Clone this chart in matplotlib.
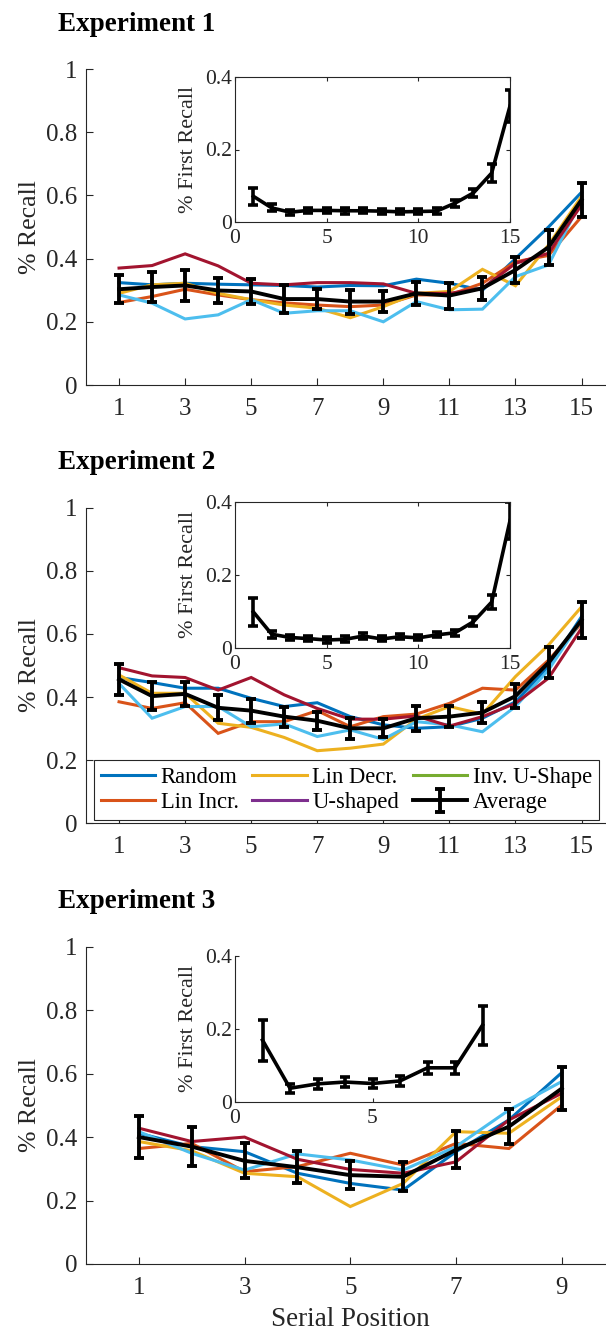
import numpy as np
import matplotlib
matplotlib.use("Agg")
import matplotlib.pyplot as plt
from matplotlib.lines import Line2D

plt.rcParams['font.family'] = ['Liberation Serif', 'DejaVu Serif']
plt.rcParams['mathtext.fontset'] = 'stix'

# MATLAB default colour order
C_BLUE = '#0072BD'
C_ORANGE = '#D95319'
C_YELLOW = '#EDB120'
C_PURPLE = '#7E2F8E'
C_GREEN = '#77AC30'
C_LBLUE = '#4DBEEE'
C_DRED = '#A2142F'
AX_COL = '#262626'

# ---------------- Experiment 1 (15 items) ----------------
exp1_random = [0.324, 0.317, 0.322, 0.319, 0.317, 0.315, 0.310, 0.315, 0.314, 0.335, 0.322, 0.300, 0.400, 0.500, 0.610]
exp1_lin_incr = [0.261, 0.280, 0.303, 0.285, 0.270, 0.260, 0.253, 0.248, 0.253, 0.285, 0.285, 0.322, 0.390, 0.410, 0.533]
exp1_lin_decr = [0.290, 0.317, 0.322, 0.290, 0.270, 0.253, 0.243, 0.213, 0.248, 0.290, 0.296, 0.366, 0.314, 0.443, 0.597]
exp1_u_shaped = [0.285, 0.259, 0.209, 0.222, 0.270, 0.227, 0.235, 0.235, 0.200, 0.264, 0.238, 0.240, 0.343, 0.380, 0.586]
exp1_inv_u = [0.370, 0.378, 0.415, 0.377, 0.322, 0.317, 0.324, 0.324, 0.320, 0.290, 0.290, 0.306, 0.385, 0.417, 0.570]
exp1_avg = [0.303, 0.310, 0.315, 0.299, 0.296, 0.272, 0.272, 0.264, 0.264, 0.290, 0.283, 0.306, 0.364, 0.436, 0.586]
exp1_avg_err = [0.044, 0.048, 0.048, 0.041, 0.041, 0.043, 0.032, 0.038, 0.034, 0.037, 0.041, 0.037, 0.040, 0.055, 0.054]
exp1_first = [0.071, 0.039, 0.027, 0.032, 0.032, 0.031, 0.031, 0.030, 0.028, 0.029, 0.030, 0.052, 0.080, 0.135, 0.320]
exp1_first_err = [0.024, 0.010, 0.007, 0.008, 0.008, 0.008, 0.007, 0.007, 0.007, 0.007, 0.008, 0.010, 0.012, 0.025, 0.045]

# ---------------- Experiment 2 (15 items) ----------------
exp2_random = [0.462, 0.446, 0.428, 0.428, 0.396, 0.370, 0.382, 0.338, 0.312, 0.301, 0.306, 0.333, 0.385, 0.496, 0.655]
exp2_lin_incr = [0.385, 0.364, 0.382, 0.285, 0.322, 0.322, 0.357, 0.306, 0.338, 0.346, 0.380, 0.428, 0.422, 0.517, 0.634]
exp2_lin_decr = [0.470, 0.412, 0.412, 0.317, 0.304, 0.272, 0.230, 0.238, 0.251, 0.330, 0.370, 0.346, 0.465, 0.565, 0.686]
exp2_u_shaped = [0.443, 0.333, 0.370, 0.370, 0.306, 0.315, 0.275, 0.296, 0.266, 0.322, 0.312, 0.290, 0.370, 0.486, 0.644]
exp2_inv_u = [0.493, 0.467, 0.462, 0.422, 0.462, 0.407, 0.364, 0.330, 0.330, 0.340, 0.308, 0.338, 0.380, 0.460, 0.618]
exp2_avg = [0.456, 0.403, 0.410, 0.366, 0.357, 0.338, 0.325, 0.301, 0.301, 0.333, 0.338, 0.351, 0.403, 0.509, 0.644]
exp2_avg_err = [0.050, 0.044, 0.038, 0.040, 0.038, 0.032, 0.028, 0.033, 0.028, 0.040, 0.034, 0.033, 0.038, 0.050, 0.057]
exp2_first = [0.098, 0.037, 0.028, 0.025, 0.021, 0.023, 0.032, 0.024, 0.030, 0.027, 0.035, 0.041, 0.071, 0.125, 0.348]
exp2_first_err = [0.039, 0.010, 0.007, 0.007, 0.007, 0.008, 0.008, 0.007, 0.007, 0.007, 0.007, 0.008, 0.012, 0.020, 0.050]

# ---------------- Experiment 3 (9 items) ----------------
exp3_random = [0.412, 0.370, 0.354, 0.286, 0.254, 0.233, 0.354, 0.454, 0.603]
exp3_lin_incr = [0.364, 0.380, 0.291, 0.307, 0.349, 0.312, 0.380, 0.364, 0.501]
exp3_lin_decr = [0.386, 0.357, 0.286, 0.275, 0.181, 0.254, 0.417, 0.412, 0.527]
exp3_u_shaped = [0.417, 0.349, 0.296, 0.347, 0.328, 0.296, 0.370, 0.485, 0.575]
exp3_inv_u = [0.428, 0.386, 0.400, 0.330, 0.298, 0.286, 0.322, 0.454, 0.538]
exp3_avg = [0.400, 0.370, 0.325, 0.305, 0.280, 0.275, 0.360, 0.433, 0.553]
exp3_avg_err = [0.065, 0.062, 0.055, 0.050, 0.045, 0.045, 0.058, 0.056, 0.067]
exp3_first = [0.169, 0.037, 0.049, 0.054, 0.050, 0.057, 0.093, 0.093, 0.210]
exp3_first_err = [0.056, 0.012, 0.014, 0.013, 0.012, 0.013, 0.016, 0.016, 0.053]

conditions = ['Random', 'Lin Incr.', 'Lin Decr.', 'U-shaped', 'Inv. U-Shape']
legend_colors = [C_BLUE, C_ORANGE, C_YELLOW, C_PURPLE, C_GREEN]
line_colors = [C_BLUE, C_ORANGE, C_YELLOW, C_LBLUE, C_DRED]

experiments = [
    dict(title='Experiment 1', n=15,
         series=[exp1_random, exp1_lin_incr, exp1_lin_decr, exp1_u_shaped, exp1_inv_u],
         avg=exp1_avg, err=exp1_avg_err, first=exp1_first, first_err=exp1_first_err,
         xticks=[1, 3, 5, 7, 9, 11, 13, 15], ins_xlim=(0, 15), ins_xticks=[0, 5, 10, 15], box=True),
    dict(title='Experiment 2', n=15,
         series=[exp2_random, exp2_lin_incr, exp2_lin_decr, exp2_u_shaped, exp2_inv_u],
         avg=exp2_avg, err=exp2_avg_err, first=exp2_first, first_err=exp2_first_err,
         xticks=[1, 3, 5, 7, 9, 11, 13, 15], ins_xlim=(0, 15), ins_xticks=[0, 5, 10, 15], box=True),
    dict(title='Experiment 3', n=9,
         series=[exp3_random, exp3_lin_incr, exp3_lin_decr, exp3_u_shaped, exp3_inv_u],
         avg=exp3_avg, err=exp3_avg_err, first=exp3_first, first_err=exp3_first_err,
         xticks=[1, 3, 5, 7, 9], ins_xlim=(0, 10), ins_xticks=[0, 5], box=False),
]

W, H = 606, 1334
fig = plt.figure(figsize=(W / 100, H / 100), dpi=100)

# pixel boxes: (main top, main bottom, inset top, inset bottom, title baseline)
boxes = [(69, 385, 77, 222, 31), (507.7, 823.3, 501.7, 647.7, 469), (946.7, 1264, 956, 1101.7, 908)]
main_left, main_right = 86, 614.6
ins_left, ins_right = 235, 510


def style_axes(ax, fs, length, pad_x, pad_y):
    for s in ax.spines.values():
        s.set_color(AX_COL)
        s.set_linewidth(0.8)
    ax.tick_params(direction='in', length=length, width=0.8, colors=AX_COL,
                   labelsize=fs, labelcolor=AX_COL)
    ax.tick_params(axis='x', pad=pad_x)
    ax.tick_params(axis='y', pad=pad_y)


for i, ex in enumerate(experiments):
    top, bot, itop, ibot, tbase = boxes[i]
    ax = fig.add_axes([main_left / W, 1 - bot / H, (main_right - main_left) / W, (bot - top) / H])
    x = np.arange(1, ex['n'] + 1)
    for vals, col in zip(ex['series'], line_colors):
        ax.plot(x, vals, color=col, lw=2.2, solid_joinstyle='miter')
    eb = ax.errorbar(x, ex['avg'], yerr=ex['err'], color='k', lw=2.8, elinewidth=2.8,
                     capsize=3.9, capthick=2.8, zorder=5)
    ax.set_xlim(0, ex['n'] + 1)
    ax.set_ylim(0, 1)
    ax.set_xticks(ex['xticks'])
    ax.set_yticks([0, 0.2, 0.4, 0.6, 0.8, 1])
    ax.set_yticklabels(['0', '0.2', '0.4', '0.6', '0.8', '1'])
    ax.spines['top'].set_visible(False)
    ax.spines['right'].set_visible(False)
    style_axes(ax, 18, 5, 9, 6)
    ax.set_ylabel('% Recall', fontsize=18.5, color=AX_COL, labelpad=4)
    fig.text(58 / W, 1 - tbase / H, ex['title'], fontsize=19.5, fontweight='bold',
             ha='left', va='baseline')

    if i == 1:
        handles = [Line2D([], [], color=c, lw=2.2) for c in legend_colors] + [eb]
        labels = conditions + ['Average']
        leg = fig.legend(handles, labels, loc='upper left', ncol=3,
                         bbox_to_anchor=(94 / W, 1 - 760 / H), bbox_transform=fig.transFigure,
                         borderaxespad=0, fontsize=16.3, frameon=True, fancybox=False,
                         framealpha=1, edgecolor=AX_COL, handlelength=2.4,
                         handletextpad=0.25, columnspacing=0.6, labelspacing=0.2,
                         borderpad=0.3)
        leg.get_frame().set_linewidth(0.8)
        for t in leg.get_texts():
            t.set_color('k')

    if i == 2:
        ax.set_xlabel('Serial Position', fontsize=19.5, color=AX_COL, labelpad=6)

    # inset: first recall probability
    ia = fig.add_axes([ins_left / W, 1 - ibot / H, (ins_right - ins_left) / W, (ibot - itop) / H])
    ia.errorbar(x, ex['first'], yerr=ex['first_err'], color='k', lw=2.6, elinewidth=2.6,
                capsize=3.6, capthick=2.6)
    ia.set_xlim(*ex['ins_xlim'])
    ia.set_ylim(0, 0.4)
    ia.set_xticks(ex['ins_xticks'])
    ia.set_yticks([0, 0.2, 0.4])
    ia.set_yticklabels(['0', '0.2', '0.4'])
    style_axes(ia, 15.5, 3, 5, 2)
    if ex['box']:
        ia.tick_params(top=True, right=True)
    else:
        ia.spines['top'].set_visible(False)
        ia.spines['right'].set_visible(False)
    ia.set_ylabel('% First Recall', fontsize=16, color=AX_COL, labelpad=5)

fig.savefig('out.png', dpi=100)
